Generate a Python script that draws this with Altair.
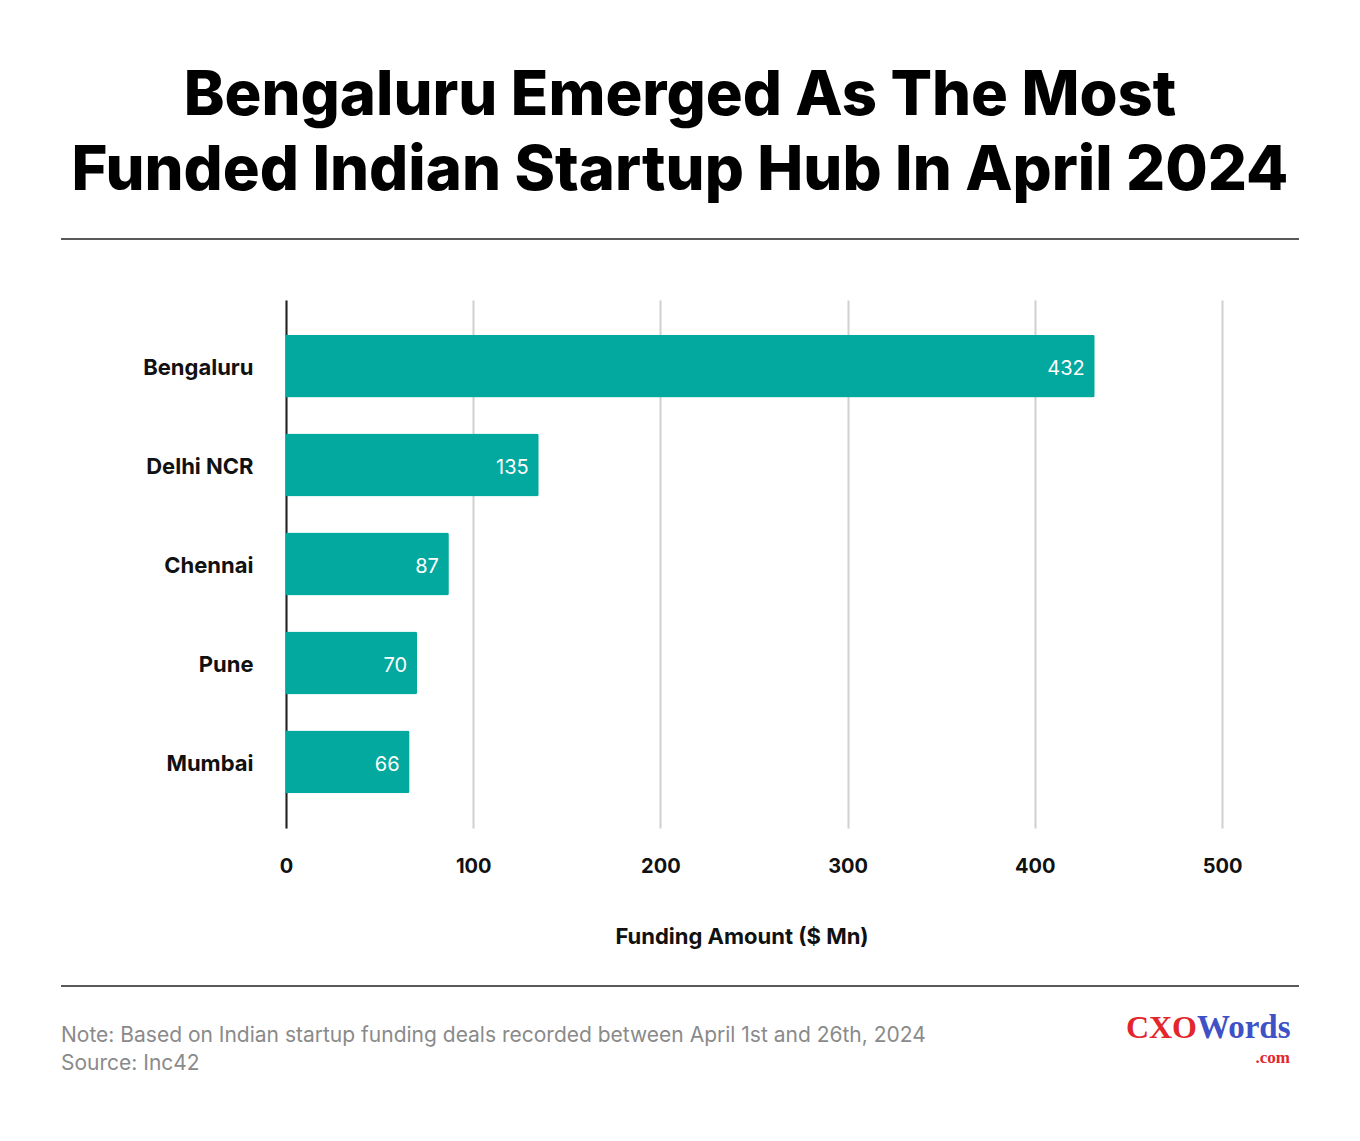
import altair as alt
import pandas as pd

cities = ["Bengaluru", "Delhi NCR", "Chennai", "Pune", "Mumbai"]
funding = [432, 135, 87, 70, 66]
x_ticks = [0, 100, 200, 300, 400, 500]

title_lines = ["Bengaluru Emerged As The Most", "Funded Indian Startup Hub In April 2024"]
x_title = "Funding Amount ($ Mn)"
note_lines = ["Note: Based on Indian startup funding deals recorded between April 1st and 26th, 2024",
              "Source: Inc42"]

df = pd.DataFrame({"city": cities, "funding": funding})

BAR = "#03A89E"
FONT = "Inter"

x_enc = alt.X("funding:Q",
              scale=alt.Scale(domain=[0, 500], nice=False, zero=True),
              axis=alt.Axis(values=x_ticks, title=None, grid=True, gridColor="#d0d0d0",
                            gridWidth=2, domain=False, ticks=False, labelPadding=38,
                            labelFlush=False,
                            labelFont=FONT, labelFontSize=20, labelFontWeight="bold",
                            labelColor="#111111", labelBaseline="middle"))
y_enc = alt.Y("city:N", sort=cities,
              scale=alt.Scale(paddingInner=0.364, paddingOuter=0.35),
              axis=alt.Axis(title=None, domain=True, domainColor="#222222", domainWidth=2,
                            ticks=False, labelPadding=33, labelFont=FONT, labelFontSize=22,
                            labelOffset=2,
                            labelFontWeight="bold", labelColor="#111111", grid=False))

bars = alt.Chart(df).mark_bar(color=BAR, cornerRadiusEnd=2).encode(x=x_enc, y=y_enc)
labels = alt.Chart(df).mark_text(align="right", dx=-10, dy=3, color="white", font=FONT,
                                 fontSize=20, baseline="middle").encode(
    x="funding:Q", y=alt.Y("city:N", sort=cities), text="funding:Q")

def txt(s, x, y, **kw):
    return alt.Chart(pd.DataFrame({"t": [s]})).mark_text(**kw).encode(
        text="t:N", x=alt.value(x), y=alt.value(y))

title1 = txt(title_lines[0], 394, -185, font=FONT, fontSize=61.5, fontWeight=800,
             align="center", baseline="alphabetic", color="#000000")
title2 = txt(title_lines[1], 394, -110, font=FONT, fontSize=61.5, fontWeight=800,
             align="center", baseline="alphabetic", color="#000000")
xt = txt(x_title, 456, 637, font=FONT, fontSize=22, fontWeight="bold", align="center",
         baseline="middle", color="#111111")
note1 = txt(note_lines[0], -225, 742, font=FONT, fontSize=21, align="left",
            baseline="alphabetic", color="#8a8a8a")
note2 = txt(note_lines[1], -225, 770, font=FONT, fontSize=21, align="left",
            baseline="alphabetic", color="#8a8a8a")
logo1 = txt("CXO", 911, 738, font="Liberation Serif", fontSize=32, fontWeight="bold",
            align="right", baseline="alphabetic", color="#E3262B")
logo2 = txt("Words", 911, 738, font="Liberation Serif", fontSize=33, fontWeight="bold",
            align="left", baseline="alphabetic", color="#3F51C6")
logo3 = txt(".com", 1004, 763, font="Liberation Serif", fontSize=17, fontWeight="bold",
            align="right", baseline="alphabetic", color="#E3262B")

def hrule(y):
    return alt.Chart(pd.DataFrame({"a": [0]})).mark_rule(color="#222222", strokeWidth=1.5).encode(
        x=alt.value(-225), x2=alt.value(1013), y=alt.value(y))

chart = alt.layer(bars, labels, title1, title2, xt, note1, note2, logo1, logo2, logo3,
                  hrule(-61), hrule(686)).properties(
    width=936, height=528,
    autosize=alt.AutoSizeParams(type="none"),
    padding={"left": 278, "top": 292, "right": 130, "bottom": 305},
).configure(background="white", view=alt.ViewConfig(stroke=None))

chart.save("out.html", embed_options={"renderer": "svg", "actions": False})
